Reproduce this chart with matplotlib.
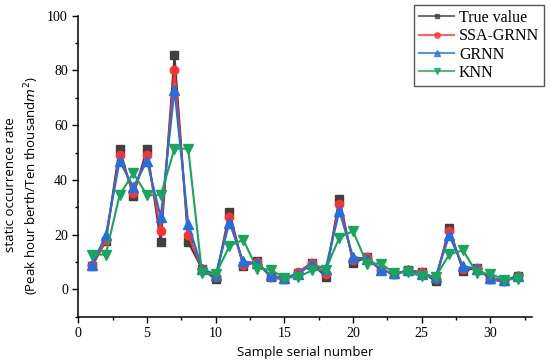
import numpy as np
import matplotlib.pyplot as plt
from matplotlib.ticker import MultipleLocator


samples = np.arange(1, 33)
true_val = [8.4, 17.7, 51.4, 34.1, 51.4, 17.3, 85.6, 17.2, 7.6, 3.6,
            28.3, 8.5, 10.2, 4.5, 3.6, 6.1, 9.8, 4.5, 33.2, 9.6,
            11.8, 7.2, 5.5, 6.9, 6.3, 3.0, 22.5, 6.7, 7.9, 3.6,
            2.9, 4.9]
ssa_grnn = [8.8, 17.9, 49.2, 35.3, 49.2, 21.2, 80.1, 20.0, 7.6, 4.5,
            26.4, 9.0, 9.9, 4.6, 3.7, 6.2, 9.8, 5.7, 31.1, 10.6,
            11.8, 7.2, 5.5, 6.9, 6.3, 3.9, 21.3, 7.6, 7.9, 3.8,
            2.9, 4.9]
grnn = [9.0, 19.7, 46.9, 37.4, 46.9, 26.4, 73.0, 24.0, 7.6, 5.4,
        24.4, 10.2, 9.6, 5.1, 4.1, 5.7, 9.1, 7.6, 28.6, 11.8,
        11.2, 7.2, 5.8, 6.9, 5.7, 4.5, 19.7, 8.4, 7.6, 4.1,
        3.3, 5.0]
knn = [12.7, 12.7, 34.4, 42.5, 34.4, 34.4, 51.4, 51.4, 6.0, 5.5,
       15.8, 18.2, 7.6, 7.2, 4.2, 4.5, 6.9, 7.2, 18.9, 21.3,
       9.4, 9.4, 6.0, 6.3, 4.8, 4.5, 12.8, 14.3, 6.0, 5.7,
       3.5, 3.9]

serif = 'Liberation Serif'
sans = 'Open Sans'

fig = plt.figure(figsize=(5.5, 3.62), dpi=100)
ax = fig.add_axes([0.1424, 0.1251, 0.8243, 0.8315])

ax.plot(samples, true_val, color='#404040', marker='s', ms=5.5, lw=1.5, label='True value')
ax.plot(samples, ssa_grnn, color='#ff3030', marker='o', ms=6, lw=1.5, label='SSA-GRNN')
ax.plot(samples, grnn, color='#1f6fe5', marker='^', ms=6.5, lw=1.5, label='GRNN')
ax.plot(samples, knn, color='#1aa65a', marker='v', ms=6.5, lw=1.5, label='KNN')

ax.set_xlim(0, 33)
ax.set_ylim(-10, 100)
ax.xaxis.set_major_locator(MultipleLocator(5))
ax.xaxis.set_minor_locator(MultipleLocator(2.5))
ax.set_yticks([0, 20, 40, 60, 80, 100])
ax.yaxis.set_minor_locator(MultipleLocator(10))
ax.tick_params(which='major', direction='out', length=4, width=1, labelsize=10)
ax.tick_params(which='minor', direction='out', length=2.5, width=1)
for lab in ax.get_xticklabels() + ax.get_yticklabels():
    lab.set_fontfamily(serif)

ax.spines['top'].set_visible(False)
ax.spines['right'].set_visible(False)
ax.spines['left'].set_linewidth(1.1)
ax.spines['bottom'].set_linewidth(1.1)

ax.set_xlabel('Sample serial number', fontfamily=sans, fontsize=9.5, labelpad=4)
ax.set_ylabel('static occurrence rate\n(Peak hour berth/Ten thousand$m^2$)',
              fontfamily=sans, fontsize=9.5, linespacing=1.35)
ax.yaxis.set_label_coords(-0.083, 0.4375)

leg = fig.legend(loc='upper right', bbox_to_anchor=(0.989, 0.986),
                 prop={'family': serif, 'size': 11.5}, fancybox=False,
                 edgecolor='#555555', framealpha=1, borderpad=0.3,
                 labelspacing=0.15, handlelength=2.2, handletextpad=0.3,
                 borderaxespad=0, markerscale=0.65)
leg.get_frame().set_linewidth(1)
for h in leg.legend_handles:
    h.set_alpha(0.75)

fig.savefig('out.png', dpi=100)
